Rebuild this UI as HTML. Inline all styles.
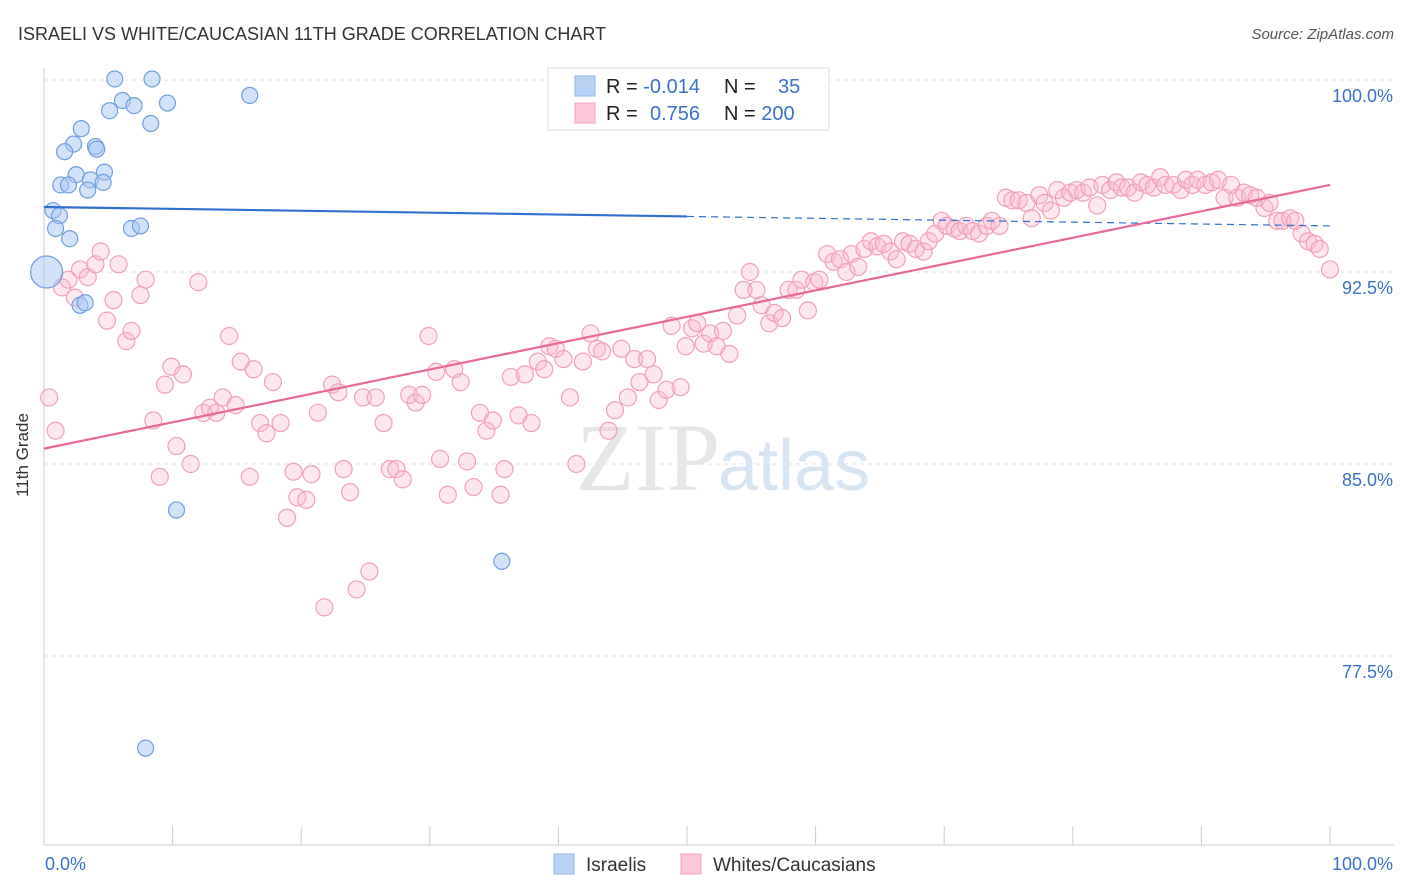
<!DOCTYPE html>
<html><head><meta charset="utf-8"><style>
body{margin:0;background:#fff;font-family:"Liberation Sans",sans-serif;}
svg{display:block}
</style></head><body>
<svg id="chart" width="1406" height="892">
<text x="18" y="40" font-size="18" fill="#333">ISRAELI VS WHITE/CAUCASIAN 11TH GRADE CORRELATION CHART</text>
<text x="1394" y="39" font-size="15" fill="#555" font-style="italic" text-anchor="end">Source: ZipAtlas.com</text>
<g id="grid"></g>
<text x="720" y="490" font-size="96" fill="#e6e6e6" text-anchor="end" font-family="Liberation Serif">ZIP</text>
<text x="718" y="490" font-size="72" fill="#d8e6f4">atlas</text>
<g id="pts"></g>
<g id="trends"></g>
<text x="28" y="455" font-size="17" fill="#333" text-anchor="middle" transform="rotate(-90 28 455)">11th Grade</text>
<g>
<rect x="548" y="68" width="281" height="62" fill="#fff" stroke="#ddd"/>
<rect x="575" y="76" width="20" height="20" fill="#b8d2f4" stroke="#8fb4e6"/>
<rect x="575" y="103" width="20" height="20" fill="#fcc8d8" stroke="#f0a0bc"/>
<text x="606" y="93" font-size="20" fill="#222">R = <tspan fill="#3a72c8">-0.014</tspan></text>
<text x="724" y="93" font-size="20" fill="#222">N = <tspan fill="#3a72c8" x="778">35</tspan></text>
<text x="606" y="120" font-size="20" fill="#222">R = <tspan fill="#3a72c8" x="650">0.756</tspan></text>
<text x="724" y="120" font-size="20" fill="#222">N = <tspan fill="#3a72c8">200</tspan></text>
</g>
<g>
<rect x="554" y="854" width="20" height="20" fill="#b8d2f4" stroke="#8fb4e6"/>
<text x="586" y="871" font-size="19" fill="#333">Israelis</text>
<rect x="681" y="854" width="20" height="20" fill="#fcc8d8" stroke="#f0a0bc"/>
<text x="713" y="871" font-size="19" fill="#333">Whites/Caucasians</text>
</g>
</svg>
<script>
const yTicks=[100,92.5,85,77.5];
const yTickLabels=["100.0%","92.5%","85.0%","77.5%"];
const xEndLabels=["0.0%","100.0%"];
const israeliX=[5.5,8.4,45.6,43.8,6.1,5.1,7.0,9.6,16.0,8.3,2.9,2.3,1.6,4.0,4.1,2.5,4.7,1.3,1.9,3.6,3.4,4.6,0.7,1.2,0.9,2.0,6.8,7.5,0.2,2.8,3.2,10.3,35.6,7.9];
const israeliY=[100.04,100.04,100.08,100.0,99.2,98.8,99.0,99.1,99.4,98.3,98.1,97.5,97.2,97.4,97.3,96.3,96.4,95.9,95.9,96.1,95.7,96.0,94.9,94.7,94.2,93.8,94.2,94.3,92.5,91.2,91.3,83.2,81.2,73.9];
const whiteX=[0.4,0.9,1.4,1.9,2.4,2.8,3.4,4.0,4.4,4.9,5.4,5.8,6.4,6.8,7.5,7.9,8.5,9.0,9.4,9.9,10.3,10.8,11.4,12.0,12.4,12.9,13.4,13.9,14.4,14.9,15.3,16.0,16.3,16.8,17.3,17.8,18.4,18.9,19.4,19.7,20.4,20.8,21.3,21.8,22.4,22.9,23.3,23.8,24.3,24.8,25.3,25.8,26.4,26.9,27.4,27.9,28.4,28.9,29.4,29.9,30.5,30.8,31.4,31.9,32.4,32.9,33.4,33.9,34.4,34.9,35.5,35.8,36.3,36.9,37.4,37.9,38.4,38.9,39.3,39.8,40.4,40.9,41.4,41.9,42.5,43.0,43.4,43.9,44.4,44.9,45.4,45.9,46.3,46.9,47.4,47.8,48.4,48.8,49.5,49.9,50.4,50.8,51.3,51.8,52.3,52.8,53.3,53.9,54.4,54.9,55.4,55.8,56.4,56.8,57.4,57.9,58.5,58.9,59.4,59.9,60.3,60.9,61.4,61.9,62.4,62.8,63.3,63.8,64.3,64.8,65.3,65.8,66.3,66.8,67.3,67.8,68.4,68.8,69.3,69.8,70.2,70.8,71.2,71.7,72.2,72.7,73.3,73.7,74.3,74.8,75.3,75.8,76.4,76.8,77.4,77.8,78.3,78.8,79.3,79.8,80.3,80.8,81.3,81.9,82.3,82.9,83.4,83.8,84.3,84.8,85.3,85.8,86.3,86.8,87.2,87.8,88.4,88.8,89.3,89.7,90.3,90.8,91.3,91.8,92.3,92.8,93.3,93.8,94.3,94.9,95.3,95.9,96.3,96.9,97.3,97.8,98.3,98.8,99.2,100];
const whiteY=[87.6,86.3,91.9,92.2,91.5,92.6,92.3,92.8,93.3,90.6,91.4,92.8,89.8,90.2,91.6,92.2,86.7,84.5,88.1,88.8,85.7,88.5,85.0,92.1,87.0,87.2,87.0,87.6,90.0,87.3,89.0,84.5,88.7,86.6,86.2,88.2,86.6,82.9,84.7,83.7,83.6,84.6,87.0,79.4,88.1,87.8,84.8,83.9,80.1,87.6,80.8,87.6,86.6,84.8,84.8,84.4,87.7,87.4,87.7,90.0,88.6,85.2,83.8,88.7,88.2,85.1,84.1,87.0,86.3,86.7,83.8,84.8,88.4,86.9,88.5,86.6,89.0,88.7,89.6,89.5,89.1,87.6,85.0,89.0,90.1,89.5,89.4,86.3,87.1,89.5,87.6,89.1,88.2,89.1,88.5,87.5,87.9,90.4,88.0,89.6,90.3,90.5,89.7,90.1,89.6,90.2,89.3,90.8,91.8,92.5,91.8,91.2,90.5,90.9,90.7,91.8,91.8,92.2,91.0,92.1,92.2,93.2,92.9,93.0,92.5,93.2,92.7,93.4,93.7,93.5,93.6,93.3,93.0,93.7,93.6,93.4,93.3,93.7,94.0,94.5,94.3,94.2,94.1,94.3,94.1,94.0,94.3,94.5,94.3,95.4,95.3,95.3,95.2,94.6,95.5,95.2,94.9,95.7,95.4,95.6,95.7,95.6,95.8,95.1,95.9,95.7,96.0,95.8,95.8,95.6,96.0,95.9,95.8,96.2,95.9,95.9,95.7,96.1,95.9,96.1,95.9,96.0,96.1,95.4,95.9,95.4,95.6,95.5,95.4,95.0,95.2,94.5,94.5,94.6,94.5,94.0,93.7,93.6,93.4,92.6];
const israeliTrend=[95.04,94.3];
const whiteTrend=[85.6,95.9];
const NS="http://www.w3.org/2000/svg";
const X0=44,X1=1330,Y0=80,PER=25.6;
function sx(v){return X0+(X1-X0)*v/100;}
function sy(v){return Y0+(100-v)*PER;}
function mk(tag,attrs,parent){const e=document.createElementNS(NS,tag);for(const k in attrs)e.setAttribute(k,attrs[k]);parent.appendChild(e);return e;}
const grid=document.getElementById('grid');
yTicks.forEach((t,i)=>{
  const l=mk('line',{x1:44,x2:1394,y1:sy(t),y2:sy(t),stroke:'#e2e2e2','stroke-dasharray':'4,4'},grid);
  
  
  const tx=mk('text',{x:1393,y:sy(t)+22,'font-size':18,fill:'#3a72c8','text-anchor':'end'},grid);
  tx.textContent=yTickLabels[i];
  
  
});
const ax=mk('line',{x1:44,x2:44,y1:68,y2:845,stroke:'#ccc'},grid);


const bx=mk('line',{x1:44,x2:1394,y1:845,y2:845,stroke:'#ccc'},grid);


for(let i=0;i<=10;i++){
  const tk=mk('line',{x1:sx(i*10),x2:sx(i*10),y1:826,y2:845,stroke:'#ccc'},grid);
  
  
}
[[0,'start',45],[100,'end',1393]].forEach((d,i)=>{
  const t=mk('text',{x:d[2],y:870,'font-size':18,fill:'#3a72c8','text-anchor':d[1]},grid);
  t.textContent=xEndLabels[i];
  
  
});
const pts=document.getElementById('pts');
whiteX.forEach((x,i)=>{
  const c=mk('circle',{cx:sx(x),cy:sy(whiteY[i]),r:8.5,fill:'rgba(248,185,205,0.35)',stroke:'#f0a0bc','stroke-width':1.2},pts);
  
  
});
israeliX.forEach((x,i)=>{
  const big=(x===0.2&&israeliY[i]===92.5);
  const c=mk('circle',{cx:sx(x),cy:sy(israeliY[i]),r:big?16:8,fill:'rgba(165,198,242,0.5)',stroke:'#6f9fdd','stroke-width':1.2},pts);
  
  
});
const tr=document.getElementById('trends');
const iy=v=>israeliTrend[0]+(israeliTrend[1]-israeliTrend[0])*v/100;
const l1=mk('line',{x1:sx(0),y1:sy(iy(0)),x2:sx(50),y2:sy(iy(50)),stroke:'#2f6fd0','stroke-width':2.2},tr);


const l2=mk('line',{x1:sx(50),y1:sy(iy(50)),x2:sx(100),y2:sy(iy(100)),stroke:'#2f6fd0','stroke-width':1.2,'stroke-dasharray':'7,5'},tr);


const l3=mk('line',{x1:sx(0),y1:sy(whiteTrend[0]),x2:sx(100),y2:sy(whiteTrend[1]),stroke:'#e8689a','stroke-width':2.2},tr);


</script>
</body></html>
